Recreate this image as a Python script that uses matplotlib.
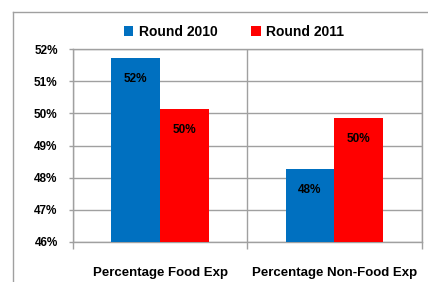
import numpy as np
import matplotlib.pyplot as plt
from matplotlib.lines import Line2D

categories = ["Percentage Food Exp", "Percentage Non-Food Exp"]
round_2010 = [51.73, 48.27]
round_2011 = [50.14, 49.86]
labels_2010 = ["52%", "48%"]
labels_2011 = ["50%", "50%"]
yticks = [46, 47, 48, 49, 50, 51, 52]

plt.rcParams['font.family'] = ['Liberation Sans', 'DejaVu Sans']
plt.rcParams['font.weight'] = 'bold'

blue = '#0070C0'
red = '#FF0000'
grid = '#A0A0A0'

fig = plt.figure(figsize=(4.28, 2.82), dpi=100)
ax = fig.add_axes([73 / 428, 1 - 242 / 282, 348.5 / 428, 193 / 282])

x = np.arange(len(categories))
w = 0.28
b1 = ax.bar(x - w / 2, round_2010, w, color=blue, label="Round 2010", zorder=3)
b2 = ax.bar(x + w / 2, round_2011, w, color=red, label="Round 2011", zorder=3)

for bars, labs in [(b1, labels_2010), (b2, labels_2011)]:
    for bar, lab in zip(bars, labs):
        ax.annotate(lab, (bar.get_x() + bar.get_width() / 2, bar.get_height()),
                    xytext=(0, -21), textcoords='offset pixels',
                    ha='center', va='center', fontsize=8.5, fontweight='bold', zorder=4)

ax.set_ylim(46, 52)
ax.set_xlim(-0.5, 1.5)
ax.set_yticks(yticks)
ax.set_yticklabels([f"{v}%" for v in yticks], fontsize=8.5, fontweight='bold')
ax.set_xticks(x)
ax.set_xticklabels(categories, fontsize=9.5, fontweight='bold')
ax.set_xticks([-0.5, 0.5, 1.5], minor=True)
ax.tick_params(axis='x', which='major', length=0, pad=18)
ax.tick_params(axis='x', which='minor', length=5, color=grid, width=1)
ax.tick_params(axis='y', length=3, color=grid, width=1, pad=8)
ax.grid(axis='y', color=grid, linewidth=1, zorder=0)
ax.grid(axis='x', which='minor', color=grid, linewidth=1, zorder=0)
for s in ax.spines.values():
    s.set_color(grid)
    s.set_linewidth(1)

ax.legend(loc='center', bbox_to_anchor=(0.462, (242 - 32) / 193), ncol=2,
          frameon=False, handlelength=0.7, handleheight=0.7, handletextpad=0.4,
          columnspacing=2.4, prop={'size': 10, 'weight': 'bold'})

# outer chart frame (cut off at the image edge)
fig.add_artist(Line2D([13 / 428, 13 / 428], [0, 1 - 12 / 282], color=grid, linewidth=1))
fig.add_artist(Line2D([13 / 428, 1], [1 - 12 / 282, 1 - 12 / 282], color=grid, linewidth=1))

fig.savefig("out.png", dpi=100)
